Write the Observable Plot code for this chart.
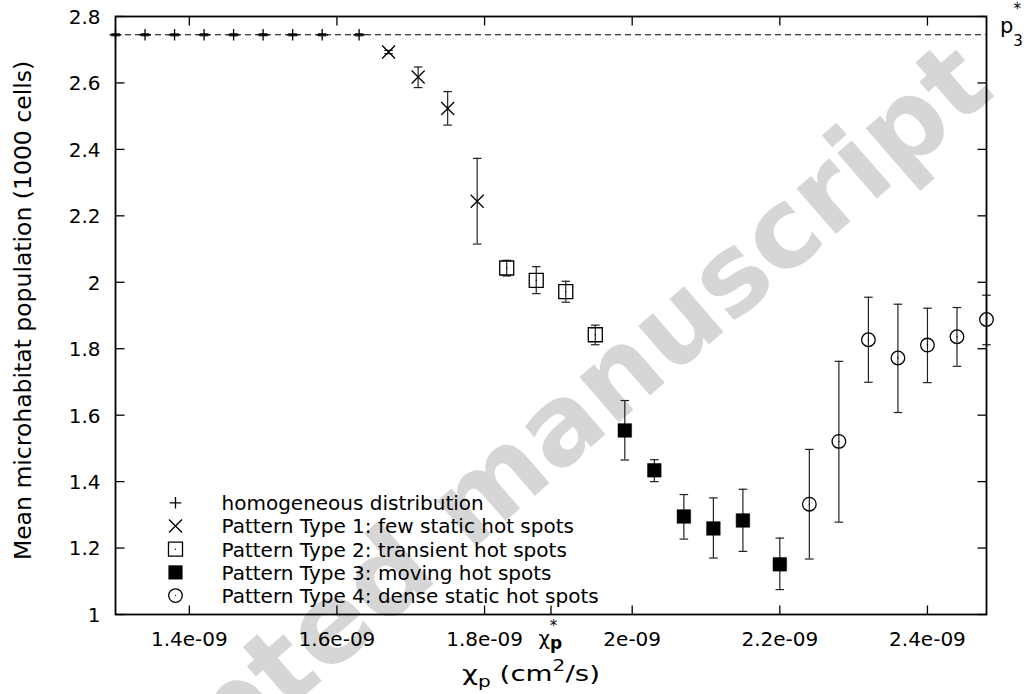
<!DOCTYPE html>
<html><head><meta charset="utf-8">
<script src="https://cdn.jsdelivr.net/npm/d3@7"></script>
<script src="https://cdn.jsdelivr.net/npm/@observablehq/plot@0.6"></script>
<style>body{margin:0;background:#fff} svg{font-family:"DejaVu Sans";}</style>
</head><body><div id="chart"></div>
<script>
// ---- data ----
const homX = [1.30e-9,1.34e-9,1.38e-9,1.42e-9,1.46e-9,1.50e-9,1.54e-9,1.58e-9,1.63e-9];
const homY = [2.745,2.745,2.745,2.745,2.745,2.745,2.745,2.745,2.745];
const homLo = [2.742,2.742,2.742,2.742,2.742,2.742,2.742,2.742,2.742];
const homHi = [2.748,2.748,2.748,2.748,2.748,2.748,2.748,2.748,2.748];

const t1X = [1.67e-9,1.71e-9,1.75e-9,1.79e-9];
const t1Y = [2.693,2.618,2.523,2.244];
const t1Lo = [2.688,2.586,2.473,2.115];
const t1Hi = [2.698,2.648,2.574,2.373];

const t2X = [1.83e-9,1.87e-9,1.91e-9,1.95e-9];
const t2Y = [2.043,2.006,1.972,1.842];
const t2Lo = [2.019,1.966,1.940,1.812];
const t2Hi = [2.066,2.047,2.003,1.871];

const t3X = [1.99e-9,2.03e-9,2.07e-9,2.11e-9,2.15e-9,2.20e-9];
const t3Y = [1.554,1.434,1.295,1.259,1.283,1.151];
const t3Lo = [1.465,1.400,1.227,1.170,1.190,1.075];
const t3Hi = [1.644,1.466,1.361,1.351,1.377,1.230];

const t4X = [2.24e-9,2.28e-9,2.32e-9,2.36e-9,2.40e-9,2.44e-9,2.48e-9];
const t4Y = [1.332,1.521,1.827,1.772,1.811,1.836,1.888];
const t4Lo = [1.167,1.278,1.699,1.608,1.698,1.747,1.812];
const t4Hi = [1.497,1.762,1.955,1.934,1.922,1.924,1.961];

const pStar3 = 2.745;
const chiStar = 1.89e-9;

const legendLabels = [
  "homogeneous distribution",
  "Pattern Type 1: few static hot spots",
  "Pattern Type 2: transient hot spots",
  "Pattern Type 3: moving hot spots",
  "Pattern Type 4: dense static hot spots"
];
const xTickValues = [1.4e-9,1.6e-9,1.8e-9,2.0e-9,2.2e-9,2.4e-9];
const xTickLabels = ["1.4e-09","1.6e-09","1.8e-09","2e-09","2.2e-09","2.4e-09"];
const yTickValues = [1,1.2,1.4,1.6,1.8,2,2.2,2.4,2.6,2.8];
const yTickLabels = ["1","1.2","1.4","1.6","1.8","2","2.2","2.4","2.6","2.8"];
const yLabel = "Mean microhabitat population (1000 cells)";
const watermark = "Accepted manuscript";

// ---- table ----
const series = [
  {name:"hom", x:homX, y:homY, lo:homLo, hi:homHi},
  {name:"t1", x:t1X, y:t1Y, lo:t1Lo, hi:t1Hi},
  {name:"t2", x:t2X, y:t2Y, lo:t2Lo, hi:t2Hi},
  {name:"t3", x:t3X, y:t3Y, lo:t3Lo, hi:t3Hi},
  {name:"t4", x:t4X, y:t4Y, lo:t4Lo, hi:t4Hi}
];
const rows = series.flatMap(s => s.x.map((x,i) => ({series:s.name, x, y:s.y[i], lo:s.lo[i], hi:s.hi[i]})));
const of = name => rows.filter(d => d.series === name);

// ---- symbols ----
const sym = f => ({draw(c, size){ f(c, Math.sqrt(size/Math.PI)); }});
const plusSym = sym((c,r)=>{c.moveTo(-r,0);c.lineTo(r,0);c.moveTo(0,-r);c.lineTo(0,r);});
const timesSym = sym((c,r)=>{c.moveTo(-r,-r);c.lineTo(r,r);c.moveTo(-r,r);c.lineTo(r,-r);});
const squareSym = sym((c,r)=>{c.rect(-r,-r,2*r,2*r);});
const capSym = sym((c,r)=>{c.moveTo(-r,0);c.lineTo(r,0);});
const tickUp = sym((c,r)=>{c.moveTo(0,0);c.lineTo(0,-r);});
const tickDown = sym((c,r)=>{c.moveTo(0,0);c.lineTo(0,r);});
const tickRight = sym((c,r)=>{c.moveTo(0,0);c.lineTo(r,0);});
const tickLeft = sym((c,r)=>{c.moveTo(0,0);c.lineTo(-r,0);});

const markerStyles = {
  hom: {symbol: plusSym, r: 5.8, fill: "none", stroke: "black", strokeWidth: 1.3},
  t1: {symbol: timesSym, r: 6.5, fill: "none", stroke: "black", strokeWidth: 1.3},
  t2: {symbol: squareSym, r: 7, fill: "none", stroke: "black", strokeWidth: 1.3},
  t3: {symbol: squareSym, r: 6.8, fill: "black", stroke: "black", strokeWidth: 0.5},
  t4: {symbol: "circle", r: 6.8, fill: "none", stroke: "black", strokeWidth: 1.3}
};
const names = ["hom","t1","t2","t3","t4"];
const TS = 9; // tick length
const FS = 20;

const marks = [
  Plot.text([watermark], {frameAnchor:"middle", dx:-72, dy:182, rotate:-41, fontSize:110, fontWeight:"bold", fill:"#d6d6d6", textAnchor:"middle", lineAnchor:"middle", fontFamily:"DejaVu Sans"}),
  Plot.ruleY([pStar3], {stroke:"black", strokeWidth:1.2, strokeDasharray:"6,4"}),
  Plot.ruleX(rows, {x:"x", y1:"lo", y2:"hi", stroke:"#222", strokeWidth:1.2}),
  Plot.dot(rows, {x:"x", y:"lo", symbol:capSym, r:4.3, stroke:"#222", fill:"none", strokeWidth:1.2}),
  Plot.dot(rows, {x:"x", y:"hi", symbol:capSym, r:4.3, stroke:"#222", fill:"none", strokeWidth:1.2}),
  ...names.map(n => Plot.dot(of(n), {x:"x", y:"y", ...markerStyles[n]})),
  Plot.dot(rows.filter(d => d.series==="t2" || d.series==="t4"), {x:"x", y:"y", r:0.7, fill:"black", stroke:"none"}),
  Plot.frame({stroke:"black", strokeWidth:1.8}),
  // ticks (inward, mirrored)
  Plot.dot([...xTickValues, chiStar], {x:d=>d, frameAnchor:"bottom", symbol:tickUp, r:TS, stroke:"black", fill:"none", strokeWidth:1.3}),
  Plot.dot(xTickValues, {x:d=>d, frameAnchor:"top", symbol:tickDown, r:TS, stroke:"black", fill:"none", strokeWidth:1.3}),
  Plot.dot(yTickValues, {y:d=>d, frameAnchor:"left", symbol:tickRight, r:TS, stroke:"black", fill:"none", strokeWidth:1.3}),
  Plot.dot(yTickValues, {y:d=>d, frameAnchor:"right", symbol:tickLeft, r:TS, stroke:"black", fill:"none", strokeWidth:1.3}),
  // tick labels
  Plot.text(xTickValues, {x:d=>d, text:(d,i)=>xTickLabels[i], frameAnchor:"bottom", dy:24.6, fontSize:FS, textAnchor:"middle", lineAnchor:"middle", fill:"black"}),
  Plot.text(yTickValues, {y:d=>d, text:(d,i)=>yTickLabels[i], frameAnchor:"left", dx:-15, dy:1, fontSize:FS, textAnchor:"end", lineAnchor:"middle", fill:"black"}),
  // y label
  Plot.text([yLabel], {frameAnchor:"left", dx:-92, dy:-5, rotate:-90, fontSize:23.5, textAnchor:"middle", lineAnchor:"middle", fill:"black"}),
  // legend
  ...names.map((n,i) => Plot.dot([0], {frameAnchor:"bottom-left", dx:60, dy:-111.7 + 23.2*i, ...markerStyles[n]})),
  Plot.dot([0], {frameAnchor:"bottom-left", dx:60, dy:-111.7 + 23.2*2, r:0.7, fill:"black"}),
  Plot.dot([0], {frameAnchor:"bottom-left", dx:60, dy:-111.7 + 23.2*4, r:0.7, fill:"black"}),
  ...legendLabels.map((t,i) => Plot.text([t], {frameAnchor:"bottom-left", dx:106, dy:-111.7 + 23.2*i + 0.9, fontSize:FS, textAnchor:"start", lineAnchor:"middle", fill:"black"}))
];

const plot = Plot.plot({
  width: 1029, height: 694,
  marginLeft: 115, marginRight: 43, marginTop: 16, marginBottom: 80,
  x: {domain:[1.30e-9, 2.48e-9], axis:null},
  y: {domain:[1, 2.8], axis:null},
  style: {fontFamily:"DejaVu Sans", background:"white", overflow:"visible"},
  marks
});
document.getElementById("chart").appendChild(plot);

// ---- rich text labels ----
const svg = d3.select(plot);
const xs = plot.scale("x"), ys = plot.scale("y");
// chi_p^* tick label (one text element)
const cx = xs.apply(chiStar);
const ct = svg.append("text").attr("x", cx - 12).attr("y", 645).attr("text-anchor","start").attr("fill","black").style("font-size", FS+"px");
ct.append("tspan").text("χ");
ct.append("tspan").attr("dy", 4).style("font-weight","bold").style("font-size","17px").text("p");
ct.append("tspan").attr("dx", -12.5).attr("dy", -18).style("font-size","15px").text("*");

// x label (stretched to the reference's width)
const xlg = svg.append("g");
const xl = xlg.append("text").attr("x", 0).attr("y", 0).attr("text-anchor","start").attr("fill","black").style("font-size","22px");
xl.append("tspan").text("χ");
xl.append("tspan").attr("dy", 6).style("font-size","16px").text("p");
xl.append("tspan").attr("dy", -6).text(" (cm");
xl.append("tspan").attr("dy", -10).style("font-size","16px").text("2");
xl.append("tspan").attr("dy", 10).text("/s)");
const bb = xl.node().getBBox();
const sx = 138 / bb.width;
xlg.attr("transform", `translate(${462 - bb.x * sx},681) scale(${sx},1)`);

// p3* label (one text element; star above the subscript)
const py = ys.apply(pStar3);
const pt = svg.append("text").attr("x", 1000).attr("y", py - 1).attr("text-anchor","start").attr("fill","black").style("font-size", "21px");
pt.append("tspan").text("p");
pt.append("tspan").attr("dy", 13).style("font-size","15px").text("3");
pt.append("tspan").attr("dx", -9.5).attr("dy", -32).style("font-size","15px").text("*");
</script>
</body></html>
